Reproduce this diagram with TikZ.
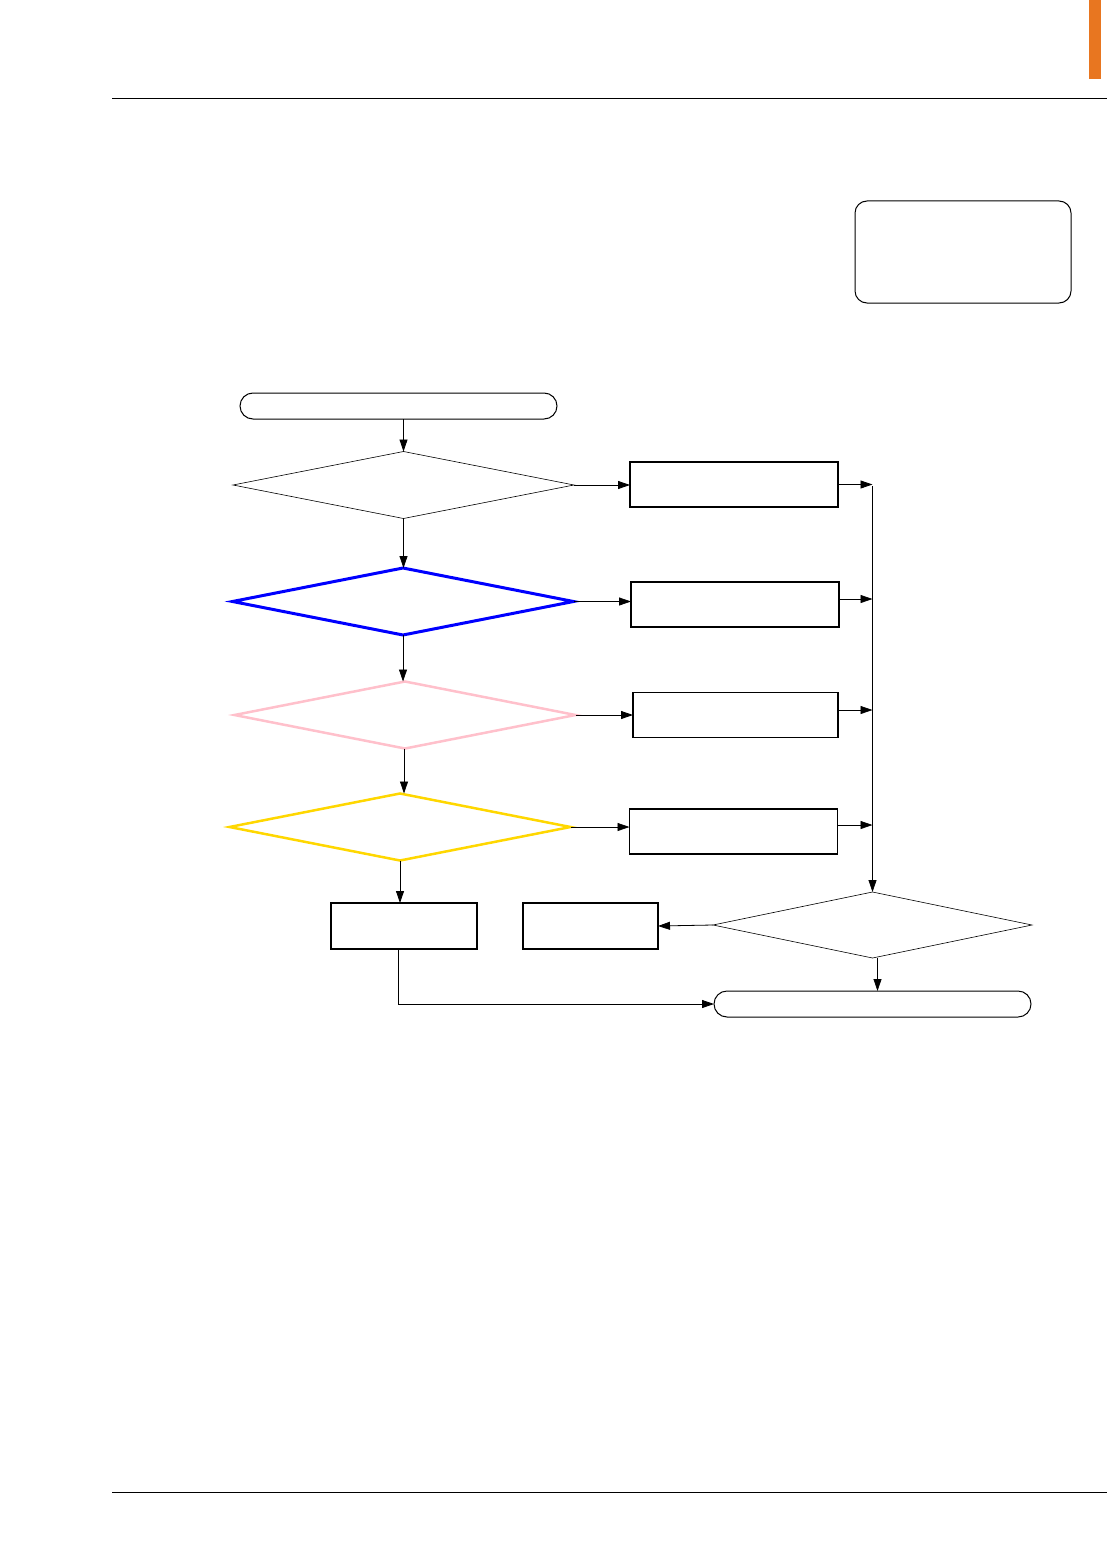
\documentclass[tikz,border=0pt]{standalone}
\usepackage{xcolor}
\definecolor{flowblue}{RGB}{0,0,255}
\definecolor{flowpink}{RGB}{255,192,203}
\definecolor{flowgold}{RGB}{255,215,0}
\definecolor{taborange}{RGB}{232,118,32}
\usetikzlibrary{arrows.meta,positioning,shapes.geometric,calc}

\tikzset{
  decbox/.style={diamond,draw,line width=0.6pt,inner sep=0pt,outer sep=0pt,
    minimum width=341pt,minimum height=67pt},
  procbox/.style={rectangle,draw,line width=1.1pt,inner sep=0pt,outer sep=0pt,
    minimum width=208pt,minimum height=45pt},
  termbox/.style={rectangle,rounded corners=13pt,draw,line width=1pt,inner sep=0pt,
    outer sep=0pt,minimum height=26pt},
  flow/.style={-{Triangle[length=12pt,width=8pt]},line width=0.8pt}
}

\begin{document}
\begin{tikzpicture}[x=1pt,y=-1pt]
  \useasboundingbox (0,0) rectangle (1107,1554);
  \fill[taborange] (1089,0) rectangle (1101,79);
  \draw[line width=1pt] (112,99) -- (1107,99);
  \draw[line width=1pt] (112,1492) -- (1107,1492);
  \draw[line width=1pt,rounded corners=12pt] (855,201) rectangle (1071,303);

  \node[termbox,minimum width=317pt] (startT) at (398.5,406) {};
  \node[decbox] (decA) at (403.5,485) {};
  \node[decbox,draw=flowblue,line width=3pt] (decB) at (403,601.5) {};
  \node[decbox,draw=flowpink,line width=2.5pt] (decC) at (405,715) {};
  \node[decbox,draw=flowgold,line width=2.5pt] (decD) at (400,827) {};

  \node[procbox] (procA) at (734,484.5) {};
  \node[procbox] (procB) at (735,604.5) {};
  \node[procbox,minimum width=205pt] (procC) at (735.5,715) {};
  \node[procbox] (procD) at (733.5,831.5) {};

  \node[procbox,minimum width=146pt,minimum height=46pt] (procL) at (404,926) {};
  \node[procbox,minimum width=135pt,minimum height=46pt] (procM) at (590.5,926) {};
  \node[decbox,minimum width=319pt,minimum height=66pt] (decE) at (872.5,925) {};
  \node[termbox,minimum width=317pt] (endT) at (872.5,1004) {};

  \coordinate (bus) at (872.5,486);

  \draw[flow] (startT.south -| decA.north) -- (decA.north);
  \draw[flow] (decA.south) -- (decA.south |- decB.north);
  \draw[flow] (decB.south) -- (decB.south |- decC.north);
  \draw[flow] ([xshift=-1pt]decC.south) -- ([xshift=-1pt]decC.south |- decD.north);
  \draw[flow] (decD.south) -- (procL.north -| decD.south);

  \draw[flow] (decA.east) -- (decA.east -| procA.west);
  \draw[flow] (decB.east) -- (decB.east -| procB.west);
  \draw[flow] (decC.east) -- (decC.east -| procC.west);
  \draw[flow] (decD.east) -- (decD.east -| procD.west);

  \draw[flow] (procA.east) -- (procA.east -| bus);
  \draw[flow] (procB.east |- 599,599) -- (bus |- 599,599);
  \draw[flow] (procC.east |- 710,710) -- (bus |- 710,710);
  \draw[flow] (procD.east |- 825,825) -- (bus |- 825,825);
  \draw[flow] (bus) -- (decE.north);

  \draw[flow] (decE.west) -- (procM.east);
  \draw[flow] ([xshift=5pt]decE.south) -- ([xshift=5pt]decE.south |- endT.north);
  \draw[flow] ([xshift=-6pt]procL.south) |- (endT.west);
\end{tikzpicture}
\end{document}
